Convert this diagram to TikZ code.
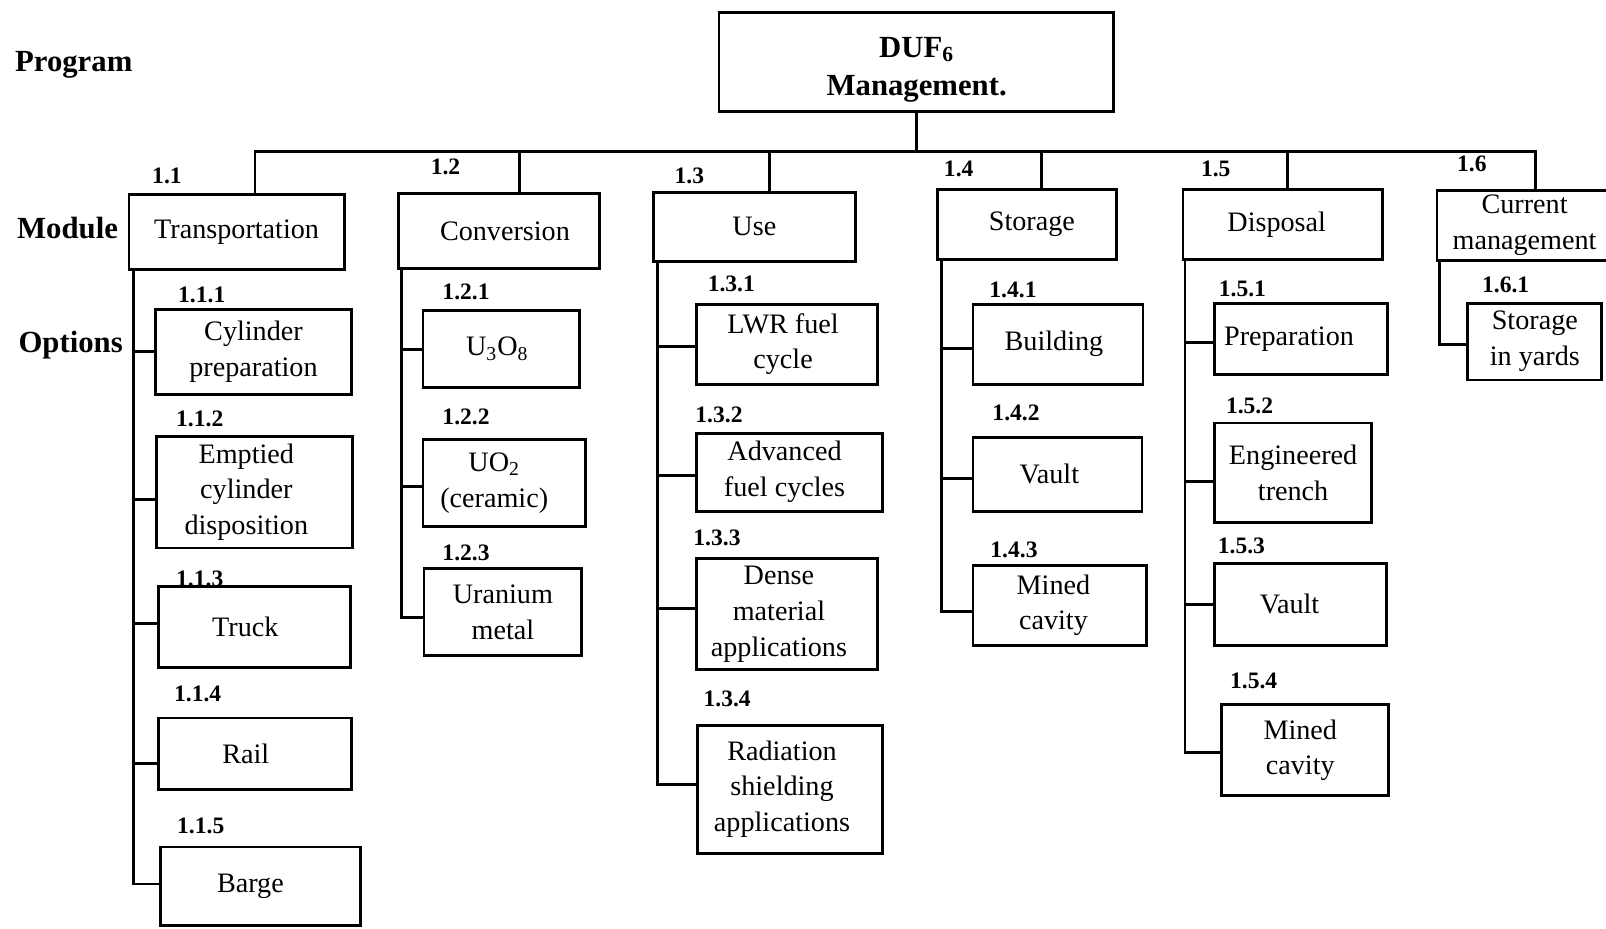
\documentclass[tikz,border=0pt]{standalone}
\usepackage{fontspec}
\setmainfont{Liberation Serif}
\newcommand\mkbox[6]{%
  \pgfmathsetmacro\bxw{(#4-#2)*0.5}%
  \pgfmathsetmacro\bxh{(#5-#3)*0.5}%
  \pgfmathsetmacro\bxx{(#2+#4)/2}%
  \pgfmathsetmacro\bxy{(#3+#5)/2}%
  \node[box,minimum width=\bxw pt,minimum height=\bxh pt] (#1) at (\bxx,\bxy) {#6};%
}
\newcommand\tsh[1]{\hspace*{#1pt}}
\begin{document}
\begin{tikzpicture}[x=0.5pt,y=-0.5pt,
  box/.style={draw,line width=1.4pt,inner sep=0pt,align=center,font=\fontsize{13.75}{17.5}\selectfont},
  num/.style={font=\bfseries\fontsize{11.5}{13}\selectfont,inner sep=0pt},
  lbl/.style={font=\bfseries\fontsize{15}{18}\selectfont,inner sep=0pt},
  conn/.style={line width=1.4pt,line join=miter}]
\useasboundingbox (0,0) rectangle (1568,907);
% level labels
\node[lbl] (lprog) at (72,63) {Program};
\node[lbl] (lmod) at (66,223) {Module};
\node[lbl] (lopt) at (69,337) {Options};
% top
\mkbox{duf}{702}{12}{1087}{109}{}
\node[font=\bfseries\fontsize{15}{18.5}\selectfont,align=center,inner sep=0pt] (duft) at (895,68) {DUF\textsubscript{6}\\Management.};
% modules
\mkbox{m1}{126}{190}{336}{263}{Transportation}
\mkbox{m2}{389}{189}{585}{262}{\tsh{6}Conversion}
\mkbox{m3}{638}{188}{835}{255}{Use}
\mkbox{m4}{915}{185}{1090}{253}{\tsh{5}Storage}
\mkbox{m5}{1155}{185}{1350}{253}{\tsh{-6}Disposal}
\mkbox{m6}{1403}{186}{1574}{254}{Current\\management}
% options
\mkbox{o11}{152}{302}{343}{385}{Cylinder\\preparation}
\mkbox{o12}{153}{426}{344}{535}{\tsh{-8}Emptied\\\tsh{-8}cylinder\\\tsh{-8}disposition}
\mkbox{o13}{155}{573}{342}{652}{\tsh{-9}Truck}
\mkbox{o14}{155}{701}{343}{771}{\tsh{-9}Rail}
\mkbox{o15}{157}{827}{352}{904}{\tsh{-10}Barge}
\mkbox{o21}{413}{303}{566}{378}{\tsh{-4}U\textsubscript{3}O\textsubscript{8}}
\mkbox{o22}{413}{429}{572}{514}{\tsh{-10}UO\textsubscript{2}\\\tsh{-10}(ceramic)}
\mkbox{o23}{414}{555}{568}{640}{Uranium\\metal}
\mkbox{o31}{680}{297}{857}{375}{\tsh{-4}LWR fuel\\\tsh{-4}cycle}
\mkbox{o32}{680}{423}{862}{499}{\tsh{-5}Advanced\\\tsh{-5}fuel cycles}
\mkbox{o33}{680}{545}{857}{654}{\tsh{-8}Dense\\\tsh{-8}material\\\tsh{-8}applications}
\mkbox{o34}{681}{708}{862}{833}{\tsh{-8}Radiation\\\tsh{-8}shielding\\\tsh{-8}applications}
\mkbox{o41}{950}{297}{1116}{375}{\tsh{-4}Building}
\mkbox{o42}{950}{427}{1115}{499}{\tsh{-8}Vault}
\mkbox{o43}{950}{552}{1119}{630}{\tsh{-6}Mined\\\tsh{-6}cavity}
\mkbox{o51}{1186}{296}{1355}{366}{\tsh{-12}Preparation}
\mkbox{o52}{1186}{413}{1339}{510}{Engineered\\trench}
\mkbox{o53}{1186}{550}{1354}{630}{\tsh{-11}Vault}
\mkbox{o54}{1193}{688}{1356}{777}{\tsh{-5}Mined\\\tsh{-5}cavity}
\mkbox{o61}{1433}{296}{1564}{371}{Storage\\in yards}
% number labels
\node[num] (n1) at (163,172) {1.1};
\node[num] (n2) at (435,163) {1.2};
\node[num] (n3) at (673,172) {1.3};
\node[num] (n4) at (936,165) {1.4};
\node[num] (n5) at (1187,165) {1.5};
\node[num] (n6) at (1437,160) {1.6};
\node[num] (n11) at (197,288) {1.1.1};
\node[num] (n12) at (195,409) {1.1.2};
\node[num] (n13) at (195,565) {1.1.3};
\node[num] (n14) at (193,677) {1.1.4};
\node[num] (n15) at (196,806) {1.1.5};
\node[num] (n21) at (455,285) {1.2.1};
\node[num] (n22) at (455,407) {1.2.2};
\node[num] (n23) at (455,540) {1.2.3};
\node[num] (n31) at (714,277) {1.3.1};
\node[num] (n32) at (702,405) {1.3.2};
\node[num] (n33) at (700,525) {1.3.3};
\node[num] (n34) at (710,682) {1.3.4};
\node[num] (n41) at (989,283) {1.4.1};
\node[num] (n42) at (992,403) {1.4.2};
\node[num] (n43) at (990,537) {1.4.3};
\node[num] (n51) at (1213,282) {1.5.1};
\node[num] (n52) at (1220,396) {1.5.2};
\node[num] (n53) at (1212,533) {1.5.3};
\node[num] (n54) at (1224,665) {1.5.4};
\node[num] (n61) at (1470,278) {1.6.1};
% bus
\coordinate (d1) at (249,148);
\coordinate (d2) at (507,148);
\coordinate (d3) at (751,148);
\coordinate (d4) at (1017,148);
\coordinate (d5) at (1257,148);
\coordinate (d6) at (1499,148);
\draw[conn] (duf.south) -- (duf.south |- d1);
\draw[conn] (d1 |- m1.north) -- (d1) -- (d6) -- (d6 |- m6.north);
\foreach \i in {2,3,4,5} \draw[conn] (d\i) -- (d\i |- m\i.north);
% spines
\coordinate (s1) at (130,263);
\coordinate (s2) at (392,262);
\coordinate (s3) at (642,255);
\coordinate (s4) at (919,253);
\coordinate (s5) at (1157,253);
\coordinate (s6) at (1405,254);
\draw[conn] (s1) -- (s1 |- 0,863) -- (o15.west |- 0,863);
\foreach \j/\yy in {1/343,2/488,3/609,4/745} \draw[conn] (s1 |- 0,\yy) -- (o1\j.west |- 0,\yy);
\draw[conn] (s2) -- (s2 |- 0,603) -- (o23.west |- 0,603);
\foreach \j/\yy in {1/341,2/475} \draw[conn] (s2 |- 0,\yy) -- (o2\j.west |- 0,\yy);
\draw[conn] (s3) -- (s3 |- 0,766) -- (o34.west |- 0,766);
\foreach \j/\yy in {1/338,2/464,3/594} \draw[conn] (s3 |- 0,\yy) -- (o3\j.west |- 0,\yy);
\draw[conn] (s4) -- (s4 |- 0,597) -- (o43.west |- 0,597);
\foreach \j/\yy in {1/340,2/467} \draw[conn] (s4 |- 0,\yy) -- (o4\j.west |- 0,\yy);
\draw[conn] (s5) -- (s5 |- 0,735) -- (o54.west |- 0,735);
\foreach \j/\yy in {1/334,2/470,3/590} \draw[conn] (s5 |- 0,\yy) -- (o5\j.west |- 0,\yy);
\draw[conn] (s6) -- (s6 |- 0,336) -- (o61.west |- 0,336);
\end{tikzpicture}
\end{document}
